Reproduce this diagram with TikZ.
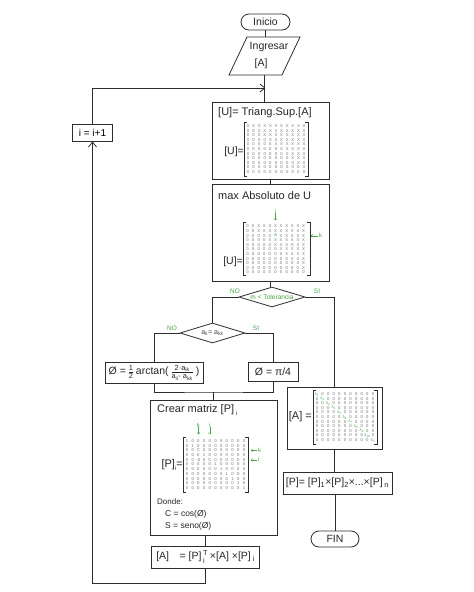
\documentclass[tikz,border=0pt]{standalone}
\usepackage{fontspec}
\usepackage{amsmath}
\setmainfont{Liberation Sans}
\usetikzlibrary{arrows.meta,shapes.geometric}
\definecolor{ln}{RGB}{45,45,45}
\definecolor{gr}{RGB}{70,165,70}
\definecolor{mt}{RGB}{115,115,115}
\newcommand\myU[2]{\ifnum#2>#1 X\else 0\fi}
\newcommand\myM[2]{\ifnum#1=3 \ifnum#2=6 \textcolor{gr}{m}\else\myU{#1}{#2}\fi\else\myU{#1}{#2}\fi}
\newcommand\myA[2]{\ifnum#1=#2 \textcolor{gr}{λ\textsubscript{\ifnum#1=11 n\else#1\fi}}\else 0\fi}
\newcommand\myP[2]{\ifnum#1=3 \ifnum#2=3 C\else\ifnum#2=5 S\else 0\fi\fi\else\ifnum#1=5 \ifnum#2=3 -S\else\ifnum#2=5 C\else 0\fi\fi\else\ifnum#1=#2 1\else 0\fi\fi\fi}
\begin{document}
\begin{tikzpicture}[x=1pt,y=-1pt,
  conn/.style={draw=ln, line width=0.8pt},
  box/.style={draw=ln, line width=0.8pt, rectangle, inner sep=0pt},
  term/.style={draw=ln, line width=0.8pt, rounded corners=8pt, inner sep=0pt},
  dia/.style={draw=ln, line width=0.8pt, diamond, inner sep=0pt},
  txt/.style={font=\fontsize{10.5}{12}\selectfont, inner sep=0pt, text=black!85},
  ttl/.style={font=\fontsize{11}{12}\selectfont, inner sep=0pt, text=black!85},
  small/.style={font=\fontsize{8.5}{10}\selectfont, inner sep=0pt, text=black!85},
  lab/.style={font=\fontsize{6.5}{7}\selectfont, text=gr, inner sep=0pt},
  glab/.style={font=\fontsize{6}{6}\selectfont, text=gr, inner sep=0pt},
  ment/.style={font=\fontsize{4.2}{4.2}\selectfont, text=mt, inner sep=0pt},
  brk/.style={draw=ln, line width=0.8pt},
  tip/.style={-{Straight Barb[length=5pt,width=8pt]}},
  garrow/.style={draw=gr, line width=0.4pt, -{Straight Barb[length=1.5pt,width=3pt]}},
  ]
\useasboundingbox[fill=white] (0,0) rectangle (474,592);

% ---------- main nodes
\node[term, minimum width=49pt, minimum height=16pt, txt] (inicio) at (265.5,22) {Inicio};
\node[minimum width=53pt, minimum height=38pt, inner sep=0pt] (ingresar) at (264.5,56) {};
\draw[conn] (247,37) -- (300,37) -- (282,75) -- (229,75) -- cycle;
\node[txt] (ingt) at (269,47) {Ingresar};
\node[txt] (inga) at (261,64) {[A]};

\node[box, minimum width=117pt, minimum height=77pt] (ubox) at (270.5,140.5) {};
\node[box, minimum width=117pt, minimum height=97pt] (mbox) at (270.5,232.5) {};
\node[dia, minimum width=66pt, minimum height=20pt] (tol) at (272,297) {};
\node[dia, minimum width=65pt, minimum height=20pt] (eq) at (212.5,333) {};
\node[box, minimum width=98pt, minimum height=21pt] (atan) at (154,372.5) {};
\node[box, minimum width=50pt, minimum height=19pt] (pi4) at (273,371.5) {};
\node[box, minimum width=127pt, minimum height=135pt] (crear) at (213.5,467.5) {};
\node[box, minimum width=108pt, minimum height=22pt] (final) at (205.5,557) {};
\node[box, minimum width=40pt, minimum height=17pt, font=\fontsize{10}{12}\selectfont] (iinc) at (92.5,132.5) {i = i+1};
\node[box, minimum width=95pt, minimum height=62pt] (abox) at (334.5,418) {};
\node[box, minimum width=109pt, minimum height=22pt] (pbox) at (337.5,483) {};
\node[term, minimum width=48pt, minimum height=16pt, txt] (fin) at (335,539) {FIN};

\coordinate (join) at (265.5,88);
\coordinate (mrg) at (213.5,392);

% ---------- connectors
\draw[conn] (inicio.south) -- (inicio.south |- ingresar.north);
\draw[conn] (ingresar.south) -- (ingresar.south |- ubox.north);
\draw[conn, tip] (iinc.north) |- (join);
\draw[conn] (ubox.south) -- (mbox.north);
\draw[conn] (mbox.south) -- (mbox.south |- tol.north);
\draw[conn] (tol.west) -| (eq.north);
\draw[conn] (tol.east) -| (abox.north);
\draw[conn] (eq.west) -| (atan.north);
\draw[conn] (eq.east) -| (pi4.north);
\draw[conn] (atan.south) |- (mrg) -| (pi4.south);
\draw[conn] (mrg) -- (crear.north);
\draw[conn] (crear.south -| final.north) -- (final.north);
\draw[conn, tip] (final.south) -- ++(0,15) -| (iinc.south);
\draw[conn] (abox.south) -- (abox.south |- pbox.north);
\draw[conn] (fin.north |- pbox.south) -- (fin.north);

% ---------- labels on branches
\node[lab] (no1) at (235,291) {NO};
\node[lab] (si1) at (317,291) {SI};
\node[lab] (no2) at (172,328) {NO};
\node[lab] (si2) at (256,328) {SI};
\node[lab, font=\fontsize{6.6}{7}\selectfont] (tolt) at (tol) {m < Tolerancia};
\node[font=\fontsize{7}{8}\selectfont, text=black!75, inner sep=0pt] (eqt) at (eq) {a\textsubscript{ii}= a\textsubscript{kk}};

% ---------- U box
\node[ttl, anchor=west] (ut) at (218,113) {[U]= Triang.Sup.[A]};
\node[txt, anchor=east] (ul) at (244,152) {[U]=};
\draw[brk] (247,122) -- (244,122) -- (244,176) -- (247,176);
\draw[brk] (305,122) -- (308,122) -- (308,176) -- (305,176);
\foreach \rr in {1,...,11}{\foreach \cc in {1,...,11}{
  \node[ment] (u-\rr-\cc) at ({248+(\cc-1)*5.6},{126+(\rr-1)*4.6}) {\myU{\rr}{\cc}};}}

% ---------- max box
\node[ttl, anchor=west] (mt) at (218,196) {max Absoluto de U};
\node[txt, anchor=east] (ml) at (243,262) {[U]=};
\draw[brk] (246,222) -- (243,222) -- (243,275) -- (246,275);
\draw[brk] (307,222) -- (310,222) -- (310,275) -- (307,275);
\foreach \rr in {1,...,11}{\foreach \cc in {1,...,11}{
  \node[ment] (m-\rr-\cc) at ({247.5+(\cc-1)*5.6},{226.5+(\rr-1)*4.6}) {\myM{\rr}{\cc}};}}
\node[glab] (mi) at (275.5,211) {i};
\draw[garrow] (mi.south) -- ++(0,7);
\node[glab, anchor=west] (mk) at (319,235.7) {k};
\draw[garrow] ([xshift=-1pt]mk.west) -- ++(-7,0);

% ---------- decision boxes
\node[txt] (atant) at (atan) {Ø =\,$\frac{\text{1}}{\text{2}}$\,arctan(\,$\frac{\text{2·a}_{\text{ik}}}{\text{a}_{\text{ii}}\text{- a}_{\text{kk}}}$\,)};
\node[txt] (pi4t) at (pi4) {Ø = π/4};

% ---------- crear box
\node[ttl, anchor=west] (ct) at (157,410) {Crear matriz [P]\,\raisebox{-3pt}{\fontsize{6}{6}\selectfont i}};
\node[ttl, anchor=east] (pl) at (183,465) {[P]\raisebox{-3pt}{\fontsize{6}{6}\selectfont i}=};
\draw[brk] (186,437) -- (183,437) -- (183,492) -- (186,492);
\draw[brk] (245,437) -- (248,437) -- (248,492) -- (245,492);
\foreach \rr in {1,...,11}{\foreach \cc in {1,...,11}{
  \node[ment] (p-\rr-\cc) at ({187+(\cc-1)*5.7},{441+(\rr-1)*4.7}) {\myP{\rr}{\cc}};}}
\node[glab] (pk) at (198.4,425) {k};
\node[glab] (pi) at (209.8,425) {i};
\draw[garrow] (pk.south) -- ++(0,7);
\draw[garrow] (pi.south) -- ++(0,7);
\node[glab, anchor=west] (prk) at (258,450.4) {k};
\node[glab, anchor=west] (pri) at (258,459.8) {i};
\draw[garrow] ([xshift=-1pt]prk.west) -- ++(-6,0);
\draw[garrow] ([xshift=-1pt]pri.west) -- ++(-6,0);
\node[small, anchor=west, font=\fontsize{8}{9}\selectfont] (donde) at (157,502) {Donde:};
\node[small, anchor=west] (cdef) at (165,514) {C = cos(Ø)};
\node[small, anchor=west] (sdef) at (165,526) {S = seno(Ø)};

% ---------- final box
\node[txt] (finalt) at (final) {[A]\quad = [P]\,$_{\text{i}}^{\text{T}}$\,×[A] ×[P]\,$_{\text{i}}$};

% ---------- A box
\node[ttl, anchor=east] (al) at (312,417) {[A] =};
\draw[brk] (316,390) -- (313,390) -- (313,444) -- (316,444);
\draw[brk] (374,390) -- (377,390) -- (377,444) -- (374,444);
\foreach \rr in {1,...,11}{\foreach \cc in {1,...,11}{
  \node[ment] (a-\rr-\cc) at ({317+(\cc-1)*5.6},{394+(\rr-1)*4.6}) {\myA{\rr}{\cc}};}}

% ---------- P box
\node[txt] (pboxt) at (pbox) {[P]= [P]$_{\text{1}}$×[P]$_{\text{2}}$×...×[P]\,$_{\text{n}}$};
\end{tikzpicture}
\end{document}
